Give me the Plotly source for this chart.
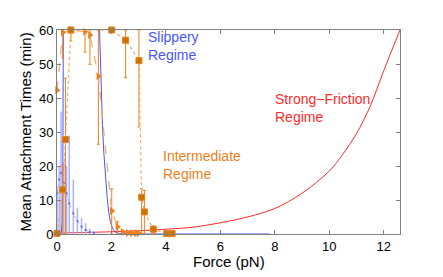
import plotly.graph_objects as go

# slippery regime: theory curve (goes off the top between ~0.23 and ~1.55 pN)
slip_theory_x = [0, 0.1, 0.16, 0.19, 0.21, 0.22, 0.23, 0.3, 1.4, 1.5, 1.55, 1.57, 1.62, 1.67, 1.72, 1.78,
                 1.84, 1.9, 1.97, 2.05, 2.15, 2.3, 2.6, 3.0, 7.8]
slip_theory_y = [0, 0.05, 0.5, 3, 12, 30, 70, 200, 200, 90, 66, 58, 42, 32, 24, 17,
                 11, 6.3, 3.3, 1.5, 0.5, 0.1, 0.02, 0, 0]

# slippery regime: measured
slip_x = [0.0, 0.08, 0.15, 0.25, 0.35, 0.45, 0.6, 0.75, 0.9, 1.05, 1.2, 1.35]
slip_y = [12, 16, 18, 15, 12, 9, 6, 3.8, 2.2, 1.2, 0.6, 0.3]
slip_err_up = [2, 4, 18, 6, 8, 20, 10, 4, 2.5, 2, 1, 0.5]
slip_err_dn = [12, 16, 18, 15, 12, 9, 6, 3.8, 2.2, 1.2, 0.6, 0.3]

# intermediate regime: triangles
tri_x = [0.0, 0.21, 0.51, 1.03, 1.21, 1.52, 2.01, 2.22, 2.41, 2.6, 2.75, 2.9, 3.0]
tri_y = [42.3, 59.3, 60, 59.5, 58.5, 46.4, 6.8, 2.1, 0.6, 0.3, 0.2, 0.2, 0.2]
tri_err_up = [0, 0.7, 0, 0.5, 1.5, 13.6, 6.5, 1.5, 0.5, 0.3, 0.2, 0.2, 0.2]
tri_err_dn = [0, 7.5, 3.2, 6, 8.6, 20, 6.8, 2.1, 0.6, 0.3, 0.2, 0.2, 0.2]

# intermediate regime: squares
sq_x = [0.0, 0.21, 0.31, 0.51, 2.01, 2.52, 3.01, 3.11, 3.21, 3.54, 4.03, 4.23]
sq_y = [0.2, 13, 27.8, 60, 60, 57, 51, 10.8, 6.5, 1.4, 0.1, 0.1]
sq_err_up = [0, 7, 18, 0, 0, 3, 9, 2.5, 6.3, 1, 0, 0]
sq_err_dn = [0, 13, 27.8, 0, 0, 11, 19.5, 10.8, 6.5, 1.4, 0, 0]

# strong-friction regime: theory curve
strong_x = [0, 1, 2, 3, 4, 5, 6, 7, 8, 9, 10, 10.5, 11, 11.5, 12, 12.6]
strong_y = [0.3, 0.45, 0.65, 0.95, 1.4, 2.0, 3.3, 5.0, 7.5, 12, 18.5, 23.5, 29.5, 37.5, 48, 60]

BLUE = "#4a55ff"
LIGHT_BLUE = "#aab2ff"
ORANGE = "#f07f1a"
LIGHT_ORANGE = "#f5a864"
OCHRE = "#c87400"
RED = "#ff2a2a"

fig = go.Figure()

fig.add_trace(go.Scatter(x=strong_x, y=strong_y, mode="lines", line=dict(color=RED, width=1, shape="spline")))

fig.add_trace(go.Scatter(
    x=slip_x, y=slip_y, mode="lines+markers",
    line=dict(color=LIGHT_BLUE, width=1, dash="dot"),
    marker=dict(color=BLUE, size=2),
    error_y=dict(type="data", symmetric=False, array=slip_err_up, arrayminus=slip_err_dn,
                 color=LIGHT_BLUE, thickness=1.5, width=0)))

fig.add_trace(go.Scatter(x=slip_theory_x, y=slip_theory_y, mode="lines", line=dict(color=BLUE, width=1)))

fig.add_trace(go.Scatter(
    x=tri_x, y=tri_y, mode="lines+markers",
    line=dict(color=LIGHT_ORANGE, width=1.2, dash="dash"),
    marker=dict(symbol="triangle-right", color=ORANGE, size=7),
    error_y=dict(type="data", symmetric=False, array=tri_err_up, arrayminus=tri_err_dn,
                 color=ORANGE, thickness=1, width=1.5),
    cliponaxis=False))

fig.add_trace(go.Scatter(
    x=sq_x, y=sq_y, mode="lines+markers",
    line=dict(color=LIGHT_ORANGE, width=1.2, dash="dot"),
    marker=dict(symbol="square", color=OCHRE, size=6, line=dict(color=ORANGE, width=1)),
    error_y=dict(type="data", symmetric=False, array=sq_err_up, arrayminus=sq_err_dn,
                 color=ORANGE, thickness=1, width=1.5),
    cliponaxis=False))

font = "Liberation Sans, Arial, sans-serif"
fig.add_annotation(x=3.27, y=55.2, text="Slippery<br>Regime", showarrow=False, xanchor="left",
                   align="left", font=dict(color=BLUE, size=14, family=font))
fig.add_annotation(x=3.81, y=20.2, text="Intermediate<br>Regime", showarrow=False, xanchor="left",
                   align="left", font=dict(color=ORANGE, size=14, family=font))
fig.add_annotation(x=7.93, y=37.1, text="Strong\u2212Friction<br>Regime", showarrow=False, xanchor="left",
                   align="left", font=dict(color=RED, size=14, family=font))
# x-axis title, placed tight under the tick labels
fig.add_annotation(x=0.5, y=0, xref="paper", yref="paper", yshift=-27, yanchor="middle",
                   text="Force (pN)", showarrow=False, font=dict(size=15, color="black", family=font))

axis_style = dict(showline=True, linecolor="#808080", linewidth=1, mirror="ticks", ticks="inside",
                  ticklen=4, tickcolor="#808080", showgrid=False, zeroline=False, automargin=False,
                  tickfont=dict(size=13, color="black", family=font))
fig.update_xaxes(range=[0, 12.6], tickvals=[0, 2, 4, 6, 8, 10, 12], **axis_style)
fig.update_yaxes(range=[0, 60], tickvals=[0, 10, 20, 30, 40, 50, 60],
                 title=dict(text="Mean Attachment Times (min)", font=dict(size=15, color="black", family=font),
                            standoff=3),
                 **axis_style)

# page body adds an 8px offset, so the figure is 8px smaller than the window
fig.update_layout(width=435, height=269, showlegend=False,
                  margin=dict(l=49, r=43, t=22, b=43),
                  plot_bgcolor="white", paper_bgcolor="white")
fig.write_html("out.html")
